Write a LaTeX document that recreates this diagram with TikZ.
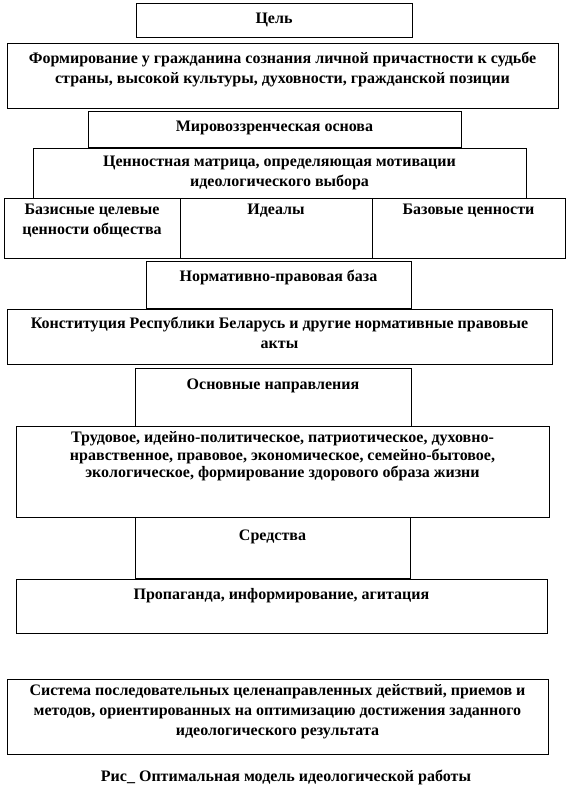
\documentclass[tikz,border=0pt]{standalone}
\usepackage{fontspec}
\setmainfont{Liberation Serif}
\usetikzlibrary{fit}

\begin{document}
\begin{tikzpicture}[
  x=0.75pt, y=-0.75pt,
  font=\bfseries\fontsize{12pt}{15pt}\selectfont,
  frame/.style={draw, line width=0.7pt, rectangle, inner sep=0pt},
  txt/.style={align=center, inner sep=0pt, anchor=north},
  tight/.style={txt, font=\bfseries\fontsize{12pt}{13pt}\selectfont}
]
\useasboundingbox (0,0) rectangle (568,798);

% boxes
\node[frame, fit={(136,3) (412,37)}] (goal) {};
\node[frame, fit={(7,43) (558,108)}] (aim) {};
\node[frame, fit={(88,111) (461,147)}] (world) {};
\node[frame, fit={(33,148) (526,198)}] (matrix) {};
\node[frame, fit={(4,198) (180,258)}] (basis) {};
\node[frame, fit={(180,198) (372,258)}] (ideal) {};
\node[frame, fit={(372,198) (565,258)}] (base) {};
\node[frame, fit={(146,261) (411,308)}] (norm) {};
\node[frame, fit={(7,309) (552,364)}] (const) {};
\node[frame, fit={(135,368) (411,426)}] (dir) {};
\node[frame, fit={(16,426) (549,517)}] (dirs) {};
\node[frame, fit={(135,517) (410,578)}] (means) {};
\node[frame, fit={(16,579) (547,633)}] (prop) {};
\node[frame, fit={(7,679) (548,754)}] (sys) {};

% texts
\node[txt] (goal-t) at ([yshift=-7.5pt]goal.north) {Цель};
\node[txt] (aim-t) at ([yshift=-7pt]aim.north) {Формирование у гражданина сознания личной причастности к судьбе\\страны, высокой культуры, духовности, гражданской позиции};
\node[txt] (world-t) at ([yshift=-7.5pt]world.north) {Мировоззренческая основа};
\node[txt] (matrix-t) at ([yshift=-6pt]matrix.north) {Ценностная матрица, определяющая мотивации\\идеологического выбора};
\node[txt] (basis-t) at ([yshift=-5pt]basis.north) {Базисные целевые\\ценности общества};
\node[txt] (ideal-t) at ([yshift=-5pt]ideal.north) {Идеалы};
\node[txt] (base-t) at ([yshift=-5pt]base.north) {Базовые ценности};
\node[txt] (norm-t) at ([yshift=-7pt]norm.north) {Нормативно-правовая база};
\node[txt] (const-t) at ([yshift=-6pt]const.north) {Конституция Республики Беларусь и другие нормативные правовые\\акты};
\node[txt] (dir-t) at ([yshift=-8pt]dir.north) {Основные направления};
\node[tight] (dirs-t) at ([yshift=-4.5pt]dirs.north) {Трудовое, идейно-политическое, патриотическое, духовно-\\нравственное, правовое, экономическое, семейно-бытовое,\\экологическое, формирование здорового образа жизни};
\node[txt] (means-t) at ([yshift=-10pt]means.north) {Средства};
\node[txt] (prop-t) at ([yshift=-7.5pt]prop.north) {Пропаганда, информирование, агитация};
\node[txt] (sys-t) at ([yshift=-4.5pt]sys.north) {Система последовательных целенаправленных действий, приемов и\\методов, ориентированных на оптимизацию достижения заданного\\идеологического результата};
\node[inner sep=0pt] (caption) at (286,777) {Рис\_ Оптимальная модель идеологической работы};
\end{tikzpicture}
\end{document}
